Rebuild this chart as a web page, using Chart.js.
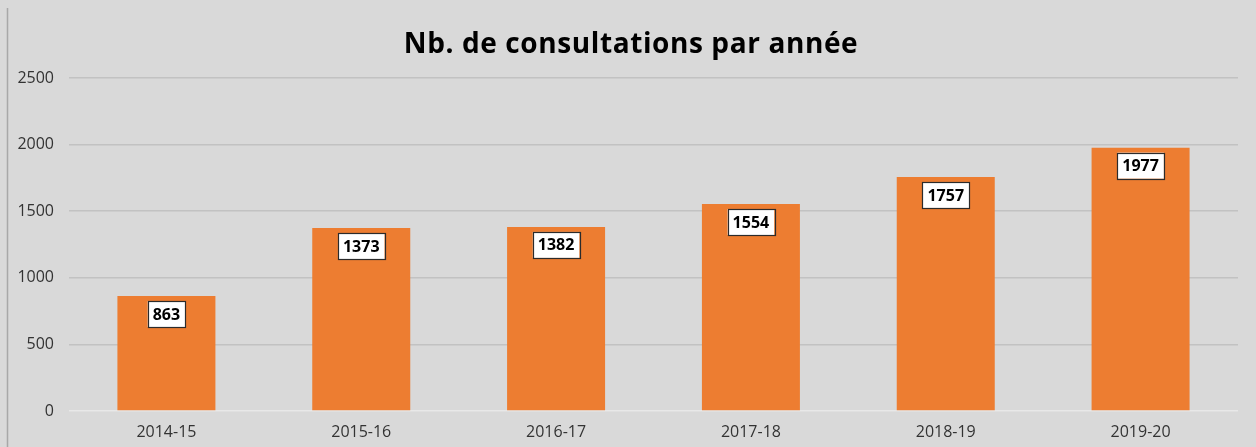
<!DOCTYPE html>
<html>
<head>
<meta charset="utf-8">
<script src="https://cdn.jsdelivr.net/npm/chart.js@4.4.1/dist/chart.umd.min.js"></script>
<style>
  html, body { margin: 0; padding: 0; background: #d9d9d9; }
  #wrap { width: 1256px; height: 447px; position: relative; }
</style>
</head>
<body>
<div id="wrap"><canvas id="c" width="1256" height="447"></canvas></div>
<script>
const categories = ["2014-15", "2015-16", "2016-17", "2017-18", "2018-19", "2019-20"];
const consultations = [863, 1373, 1382, 1554, 1757, 1977];
const yTicks = [0, 500, 1000, 1500, 2000, 2500];
const titleText = "Nb. de consultations par année";

const FONT = "'Open Sans', 'Noto Sans', sans-serif";

const bgPlugin = {
  id: 'bg',
  beforeDraw(chart) {
    const ctx = chart.ctx;
    ctx.save();
    ctx.fillStyle = '#d9d9d9';
    ctx.fillRect(0, 0, chart.width, chart.height);
    ctx.strokeStyle = '#a8a8a8';
    ctx.lineWidth = 1.5;
    ctx.beginPath();
    ctx.moveTo(7.5, 8);
    ctx.lineTo(7.5, chart.height);
    ctx.stroke();
    ctx.restore();
  },
  afterDraw(chart) {
    const ctx = chart.ctx;
    ctx.save();
    ctx.font = "bold 28px " + FONT;
    if ('letterSpacing' in ctx) ctx.letterSpacing = '0.6px';
    ctx.textAlign = 'center';
    ctx.textBaseline = 'middle';
    ctx.fillStyle = '#000000';
    ctx.fillText(titleText, 631, 45);
    ctx.restore();
  }
};

const labelPlugin = {
  id: 'boxLabels',
  afterDatasetsDraw(chart) {
    const ctx = chart.ctx;
    const meta = chart.getDatasetMeta(0);
    ctx.save();
    ctx.font = "bold 16px " + FONT;
    ctx.textAlign = 'center';
    ctx.textBaseline = 'middle';
    meta.data.forEach((bar, i) => {
      const txt = String(chart.data.datasets[0].data[i]);
      const w = ctx.measureText(txt).width + 10;
      const h = 26;
      const x = bar.x - w / 2;
      const y = bar.y + 5;
      ctx.fillStyle = '#ffffff';
      ctx.fillRect(x, y, w, h);
      ctx.strokeStyle = '#2b2b2b';
      ctx.lineWidth = 1.2;
      ctx.strokeRect(Math.round(x) + 0.5, Math.round(y) + 0.5, Math.round(w), h);
      ctx.fillStyle = '#000000';
      ctx.fillText(txt, bar.x, y + h / 2 + 1);
    });
    ctx.restore();
  }
};

new Chart(document.getElementById('c'), {
  type: 'bar',
  data: {
    labels: categories,
    datasets: [{
      data: consultations,
      backgroundColor: '#ed7d31',
      borderWidth: 0,
      barPercentage: 0.503,
      categoryPercentage: 1.0
    }]
  },
  options: {
    responsive: false,
    animation: false,
    devicePixelRatio: 1,
    layout: { padding: { left: 0, right: 18, top: 78, bottom: 0 } },
    plugins: {
      legend: { display: false },
      tooltip: { enabled: false },
      title: { display: false }
    },
    scales: {
      x: {
        grid: { display: false, drawTicks: false },
        border: { display: false },
        ticks: {
          color: '#333333',
          font: { family: FONT, size: 16 },
          padding: 12,
          maxRotation: 0
        },
        afterFit(scale) { scale.height = 36; }
      },
      y: {
        min: 0,
        max: 2500,
        afterBuildTicks(scale) { scale.ticks = yTicks.map(v => ({ value: v })); },
        grid: {
          drawTicks: false,
          color: (c) => c.tick && c.tick.value === 0 ? '#e8e8e8' : '#c2c2c2',
          lineWidth: 1.5
        },
        border: { display: false },
        ticks: {
          color: '#333333',
          font: { family: FONT, size: 16 },
          padding: 15,
          callback: (v) => String(v)
        },
        afterFit(scale) { scale.width = 69; }
      }
    }
  },
  plugins: [bgPlugin, labelPlugin]
});
</script>
</body>
</html>
